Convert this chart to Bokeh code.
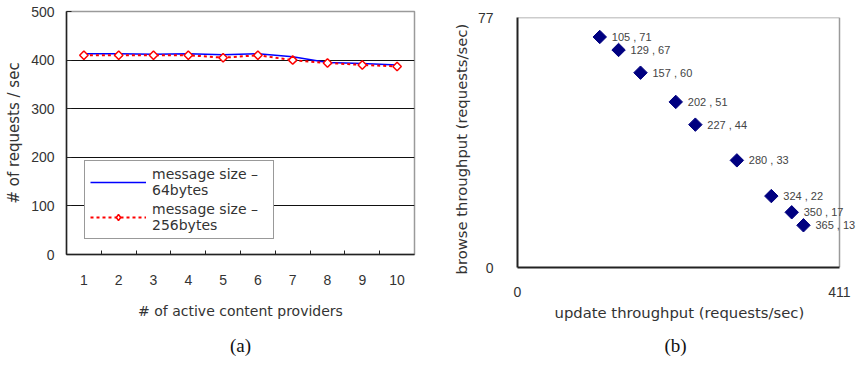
import numpy as np
from bokeh.plotting import figure
from bokeh.layouts import row
from bokeh.models import (FixedTicker, Range1d, Legend, LegendItem, Title, Label)
from bokeh.embed import file_html
from bokeh.resources import INLINE

# ---------------- data ----------------
providers = [1, 2, 3, 4, 5, 6, 7, 8, 9, 10]
rate_64 = [413, 413, 412, 413, 411, 413, 407, 395, 393, 390]
rate_256 = [410, 410, 410, 410, 405, 410, 400, 394, 390, 387]
y_ticks_a = [0, 100, 200, 300, 400, 500]

update_tp = [105, 129, 157, 202, 227, 280, 324, 350, 365]
browse_tp = [71, 67, 60, 51, 44, 33, 22, 17, 13]
x_ticks_b = [0, 411]
y_ticks_b = [0, 77]

SANS = "Arial, 'Liberation Sans', Arimo, sans-serif"
WIDE = "DejaVu Sans"
SERIF = "'Liberation Serif', 'Times New Roman', serif"
AXIS = "#222222"
OUTLINE = "#9a9a9a"
TXT = "#333333"

# ---------------- chart (a) ----------------
pa = figure(width=431, height=367, x_range=Range1d(0.5, 10.5), y_range=Range1d(0, 500),
            output_backend="svg", toolbar_location=None,
            min_border_left=66, min_border_right=17, min_border_top=11, min_border_bottom=111)
pa.frame_align = False
pa.outline_line_color = OUTLINE
pa.outline_line_width = 1.5
pa.xgrid.visible = False
pa.ygrid.ticker = FixedTicker(ticks=y_ticks_a[1:-1])
pa.ygrid.grid_line_color = "#111111"
pa.ygrid.grid_line_width = 1

pa.xaxis.ticker = FixedTicker(ticks=providers, minor_ticks=[p + 0.5 for p in providers[:-1]])
pa.xaxis.major_tick_in = 0
pa.xaxis.major_tick_out = 0
pa.xaxis.minor_tick_in = 4
pa.xaxis.minor_tick_out = 0
pa.xaxis.minor_tick_line_color = AXIS
pa.xaxis.major_label_standoff = 20
pa.xaxis.axis_label = "# of active content providers"
pa.xaxis.axis_label_standoff = 15

pa.yaxis.ticker = FixedTicker(ticks=y_ticks_a)
pa.yaxis.major_tick_in = 5
pa.yaxis.major_tick_out = 0
pa.yaxis.minor_tick_line_color = None
pa.yaxis.major_label_standoff = 12
pa.yaxis.axis_label = "# of requests / sec"
pa.yaxis.axis_label_standoff = 5

for ax in (pa.xaxis, pa.yaxis):
    ax.axis_line_color = AXIS
    ax.axis_line_width = 1.5
    ax.major_tick_line_color = AXIS
    ax.major_label_text_font = SANS
    ax.major_label_text_font_size = "14px"
    ax.major_label_text_color = TXT
    ax.axis_label_text_font = WIDE
    ax.axis_label_text_font_style = "normal"
    ax.axis_label_text_color = TXT
pa.xaxis.axis_label_text_font_size = "14px"
pa.yaxis.axis_label_text_font_size = "15px"

r64 = pa.line(providers, rate_64, line_color="#0000ff", line_width=1.5)
r256l = pa.line(providers, rate_256, line_color="#ff0000", line_width=2, line_dash="3 3")
# legend glyph (legend draws markers unrotated); hidden beneath the first plotted marker
r256g = pa.scatter(x=providers[:1], y=rate_256[:1], marker="diamond", size=7.5,
                   line_color="#ff0000", fill_color="white", line_width=1.5)
r256m = pa.scatter(providers, rate_256, marker="square", angle=np.pi / 4, size=6,
                   line_color="#ff0000", fill_color="white", line_width=1.5)

legend = Legend(items=[
    LegendItem(label="message size –\n64bytes", renderers=[r64]),
    LegendItem(label="message size –\n256bytes", renderers=[r256l, r256g]),
], location=(18, 15))
legend.border_line_color = "#333333"
legend.border_line_width = 1.5
legend.background_fill_color = "white"
legend.background_fill_alpha = 1
legend.label_text_font = WIDE
legend.label_text_font_size = "14px"
legend.label_text_color = TXT
legend.glyph_width = 56
legend.glyph_height = 16
legend.label_width = 116
legend.padding = 5
legend.spacing = 3
legend.margin = 0
legend.label_standoff = 6
pa.add_layout(legend)

pa.add_layout(Title(text="(a)", align="center", text_font=SERIF, text_font_size="19px",
                    text_font_style="normal", text_color="#111111", standoff=23), "below")

# ---------------- chart (b) ----------------
# the frame reaches past the last tick so that the point labels are not clipped
x_end_b = x_ticks_b[-1] * 1.059
pb = figure(width=431, height=367, x_range=Range1d(x_ticks_b[0], x_end_b),
            y_range=Range1d(y_ticks_b[0], y_ticks_b[-1]),
            output_backend="svg", toolbar_location=None,
            min_border_left=86, min_border_right=4, min_border_top=17, min_border_bottom=100)
pb.frame_align = False
pb.outline_line_color = None
pb.grid.visible = False

pb.xaxis.ticker = FixedTicker(ticks=x_ticks_b)
pb.xaxis.bounds = (x_ticks_b[0], x_ticks_b[-1])
pb.yaxis.ticker = FixedTicker(ticks=y_ticks_b)
for ax in (pb.xaxis, pb.yaxis):
    ax.axis_line_color = AXIS
    ax.axis_line_width = 2
    ax.major_tick_line_color = None
    ax.minor_tick_line_color = None
    ax.major_label_text_font = SANS
    ax.major_label_text_font_size = "14px"
    ax.major_label_text_color = TXT
pb.xaxis.major_label_standoff = 13
pb.yaxis.major_label_standoff = 18

# axis titles as aligned titles with offsets so that they sit on the 0..411 box
pb.add_layout(Title(text="update throughput (requests/sec)", align="left", offset=37,
                    text_font=WIDE, text_font_size="14.8px", text_font_style="normal",
                    text_color=TXT, standoff=4), "below")
pb.add_layout(Title(text="browse throughput (requests/sec)", align="left", offset=-7,
                    text_font=WIDE, text_font_size="14.8px", text_font_style="normal",
                    text_color=TXT, standoff=10), "left")

# top and right edges of the plot box
pb.line(x=[x_ticks_b[0], x_ticks_b[-1]], y=[y_ticks_b[-1], y_ticks_b[-1]],
        line_color=OUTLINE, line_width=1.5)
pb.line(x=[x_ticks_b[-1], x_ticks_b[-1]], y=[y_ticks_b[0], y_ticks_b[-1]],
        line_color=OUTLINE, line_width=1.5)

pb.scatter(update_tp, browse_tp, marker="square", angle=np.pi / 4, size=9.5,
           fill_color="#000080", line_color="#000080")
for u, b in zip(update_tp, browse_tp):
    pb.add_layout(Label(x=u, y=b, text=f"{u} , {b}", x_offset=12, y_offset=0,
                        text_baseline="middle", text_font=SANS, text_font_size="11px",
                        text_color="#444444"))

pb.add_layout(Title(text="(b)", align="left", offset=147, text_font=SERIF,
                    text_font_size="19px", text_font_style="normal", text_color="#111111",
                    standoff=20), "below")

layout = row(pa, pb, spacing=0)
open("out.html", "w").write(file_html(layout, INLINE))
